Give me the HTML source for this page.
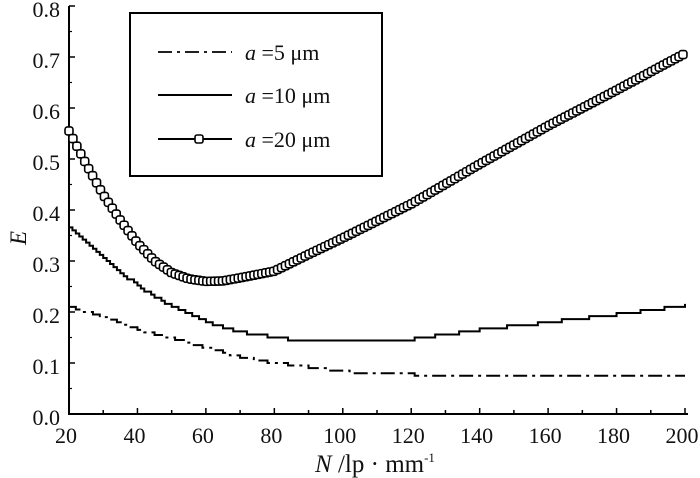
<!DOCTYPE html><html><head><style>body{margin:0;background:#fff}svg{display:block}text{font-family:"Liberation Serif",serif;fill:#111}</style></head><body>
<svg id="s" width="700" height="478" xmlns="http://www.w3.org/2000/svg"></svg>
<script>
const s=document.getElementById('s');
const X=n=>69+(n-20)*(616/180), Y=v=>414-v*510;
let h='';
h+=`<path d="M69,6V414H688" fill="none" stroke="#000" stroke-width="2"/>`;
for(let v=0;v<=8;v++){h+=`<line x1="69" x2="75" y1="${Y(v/10)}" y2="${Y(v/10)}" stroke="#000" stroke-width="1.5"/>`;
 if(v<8)h+=`<line x1="69" x2="72" y1="${Y(v/10+0.05)}" y2="${Y(v/10+0.05)}" stroke="#000" stroke-width="1.2"/>`;
 h+=`<text x="60" y="${Y(v/10)+11}" font-size="22" text-anchor="end">${(v/10).toFixed(1)}</text>`;}
for(let n=20;n<=200;n+=10){const big=n%20==0;h+=`<line x1="${X(n)}" x2="${X(n)}" y1="414" y2="${big?408:410}" stroke="#000" stroke-width="1.5"/>`;
 if(big)h+=`<text x="${X(n)-3}" y="443" font-size="22" text-anchor="middle">${n}</text>`;}
h+=`<text x="375" y="472" font-size="25" text-anchor="middle"><tspan font-style="italic">N</tspan> /lp · mm<tspan font-size="13" dy="-10">-1</tspan></text>`;
h+=`<text transform="translate(26,238) rotate(-90)" font-size="23" font-style="italic" text-anchor="middle">E</text>`;
function interp(pts,n){for(let i=0;i<pts.length-1;i++){if(n<=pts[i+1][0]){const t=(n-pts[i][0])/(pts[i+1][0]-pts[i][0]);return pts[i][1]+t*(pts[i+1][1]-pts[i][1]);}}return pts[pts.length-1][1];}
function path(pts,step,q){let d='';let prev=null;for(let n=20;n<=200;n+=step){let v=interp(pts,n);if(q)v=Math.round(v/q)*q;const x=X(n),y=Y(v);if(prev===null)d+=`M${x},${y}`;else d+=`H${x}V${y}`;prev=y;}return d;}
const a5=[[20,0.21],[30,0.19],[40,0.165],[50,0.148],[60,0.13],[70,0.112],[80,0.1],[95,0.088],[105,0.08],[120,0.078],[122,0.074],[200,0.074]];
const a10=[[20,0.365],[30,0.305],[40,0.25],[50,0.21],[60,0.18],[70,0.16],[80,0.15],[84,0.147],[120,0.147],[140,0.165],[160,0.18],[180,0.195],[200,0.213]];
const a20=[[20,0.555],[25,0.49],[30,0.43],[35,0.38],[40,0.335],[45,0.3],[50,0.277],[55,0.265],[60,0.26],[65,0.261],[70,0.267],[80,0.28],[90,0.313],[100,0.345],[120,0.412],[140,0.49],[160,0.565],[180,0.635],[200,0.707]];
h+=`<path d="${path(a5,1,0.005)}" fill="none" stroke="#000" stroke-width="2" stroke-dasharray="14,5,3,5"/>`;
h+=`<path d="${path(a10,1,0.006)}" fill="none" stroke="#000" stroke-width="2"/>`;
let d='';for(let n=20;n<=200;n+=0.5){d+=(d?'L':'M')+X(n)+','+Y(interp(a20,n));}
h+=`<path d="${d}" fill="none" stroke="#000" stroke-width="2"/>`;
for(let n=20;n<=200;n+=1.15){h+=`<rect x="${X(n)-4}" y="${Y(interp(a20,n))-4}" width="8" height="8" rx="2.5" fill="#fff" stroke="#000" stroke-width="1.6"/>`;}
h+=`<rect x="130" y="13" width="252" height="163" fill="#fff" stroke="#000" stroke-width="2"/>`;
h+=`<line x1="158" x2="232" y1="52" y2="52" stroke="#000" stroke-width="1.8" stroke-dasharray="14,5,3,5"/>`;
h+=`<line x1="158" x2="232" y1="95" y2="95" stroke="#000" stroke-width="2"/>`;
h+=`<line x1="158" x2="232" y1="139" y2="139" stroke="#000" stroke-width="2"/><rect x="195" y="135" width="8" height="8" rx="2" fill="#fff" stroke="#000" stroke-width="1.6"/>`;
[['5',60],['10',103],['20',147]].forEach(([a,y])=>{h+=`<text x="245" y="${y}" font-size="22"><tspan font-style="italic">a</tspan> =${a} μm</text>`;});
s.innerHTML=h;
</script></body></html>
